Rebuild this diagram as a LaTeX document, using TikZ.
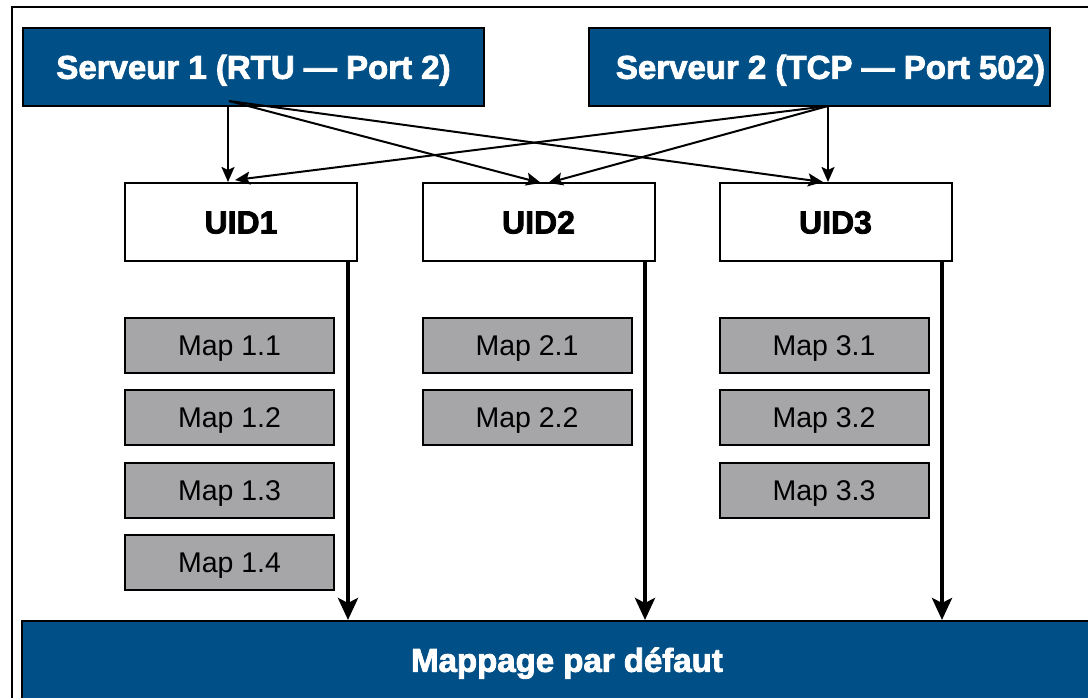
\documentclass[tikz,border=0pt]{standalone}
\usepackage{fontspec}
\setmainfont{Liberation Sans}
\newfontfamily\heavyfont[FakeBold=2.5]{Liberation Sans Bold}
\usetikzlibrary{arrows.meta,calc}
\definecolor{navy}{RGB}{0,79,134}
\definecolor{mapgrey}{RGB}{166,165,167}
\tikzset{
  server/.style={draw=black, line width=2pt, fill=navy, text=white, minimum width=461pt, minimum height=78pt, inner sep=0pt, text height=23.6pt, text depth=0pt, font=\heavyfont\fontsize{33}{36}\selectfont},
  uidbox/.style={draw=black, line width=2pt, fill=white, minimum width=232pt, minimum height=77pt, inner sep=0pt, text height=22.9pt, text depth=0pt, font=\heavyfont\fontsize{32}{36}\selectfont},
  mapbox/.style={draw=black, line width=2pt, fill=mapgrey, minimum width=209pt, minimum height=55pt, inner sep=0pt, text height=20.4pt, text depth=0pt, font=\fontsize{28.5}{32}\selectfont},
  thinarr/.style={line width=2pt, -{Stealth[length=15pt,width=13pt,inset=3pt]}},
  thickarr/.style={line width=4.5pt, -{Stealth[length=22pt,width=20pt,inset=5pt]}},
}
\begin{document}
\begin{tikzpicture}[x=1pt,y=-1pt]
\useasboundingbox (0,0) rectangle (1088,698);
\clip (0,0) rectangle (1088,698);
\draw[line width=2pt] (11.5,7.5) rectangle (1110,720);
\node[server] (s1) at (253.5,67) {Serveur 1 (RTU — Port 2)};
\node[server] (s2) at (819.5,67) {\hspace*{22pt}Serveur 2 (TCP — Port 502)};
\node[uidbox] (u1) at (241,222) {UID1};
\node[uidbox] (u2) at (538.5,222) {UID2};
\node[uidbox] (u3) at (835.5,222) {UID3};
\node[mapbox] (m11) at (229.5,345.5) {Map 1.1};
\node[mapbox] (m12) at (229.5,417.5) {Map 1.2};
\node[mapbox] (m13) at (229.5,490.5) {Map 1.3};
\node[mapbox] (m14) at (229.5,562.5) {Map 1.4};
\node[mapbox] (m21) at (527,345.5) {Map 2.1};
\node[mapbox] (m22) at (527,417.5) {Map 2.2};
\node[mapbox] (m31) at (824,345.5) {Map 3.1};
\node[mapbox] (m32) at (824,417.5) {Map 3.2};
\node[mapbox] (m33) at (824,490.5) {Map 3.3};
\node[draw=black, line width=2pt, fill=navy, text=white, minimum width=1090pt, minimum height=78pt, inner sep=0pt, text height=23.6pt, text depth=0pt, font=\heavyfont\fontsize{33}{36}\selectfont] (def) at (567,660) {Mappage par défaut};
% thin arrows origins and targets
\coordinate (o1) at (229,101);
\coordinate (o1v) at (228,106);
\coordinate (o2) at (828,106);
\coordinate (t11) at (228,182);
\coordinate (t21) at (235,180);
\coordinate (t12) at (541,183);
\coordinate (t22) at (548,183);
\coordinate (t13) at (823,182);
\coordinate (t23) at (828,182);
\draw[thinarr] (o1v) -- (t11);
\draw[thinarr] (o1) -- (t12);
\draw[thinarr] (o1) -- (t13);
\draw[thinarr] (o2) -- (t23);
\draw[thinarr] (o2) -- (t22);
\draw[thinarr] (o2) -- (t21);
% thick arrows
\coordinate (d1) at (348,261);
\coordinate (d2) at (645,261);
\coordinate (d3) at (942,261);
\draw[thickarr] (d1) -- (d1 |- def.north);
\draw[thickarr] (d2) -- (d2 |- def.north);
\draw[thickarr] (d3) -- (d3 |- def.north);
\end{tikzpicture}
\end{document}
